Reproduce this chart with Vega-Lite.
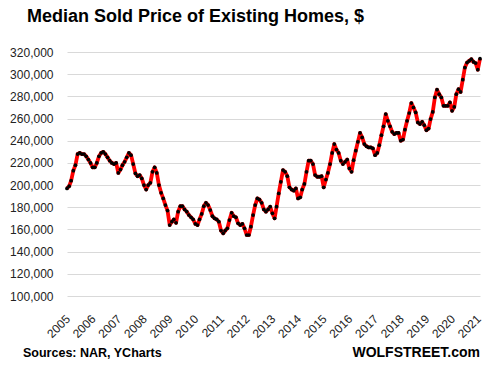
{
  "$schema": "https://vega.github.io/schema/vega-lite/v6.json",
  "width": 413,
  "height": 244,
  "autosize": {"type": "none"},
  "padding": {"left": 67, "top": 52, "right": 10, "bottom": 74},
  "background": "white",
  "config": {"view": {"stroke": null}, "font": "Liberation Sans"},
  "title": {"text": "Median Sold Price of Existing Homes, $", "anchor": "start", "frame": "group", "dx": -40, "offset": 6, "fontSize": 18, "fontWeight": "bold", "color": "#000000", "font": "Liberation Sans", "baseline": "alphabetic"},
  "data": {"values": [
      {"d":"2005-01-01","v":197000},{"d":"2005-02-01","v":199000},{"d":"2005-03-01","v":204000},{"d":"2005-04-01","v":213000},{"d":"2005-05-01","v":218000},{"d":"2005-06-01","v":228000},{"d":"2005-07-01","v":229000},{"d":"2005-08-01","v":228000},{"d":"2005-09-01","v":228000},{"d":"2005-10-01","v":226000},{"d":"2005-11-01","v":223000},{"d":"2005-12-01","v":220000},
      {"d":"2006-01-01","v":216000},{"d":"2006-02-01","v":216000},{"d":"2006-03-01","v":220000},{"d":"2006-04-01","v":226000},{"d":"2006-05-01","v":229000},{"d":"2006-06-01","v":230000},{"d":"2006-07-01","v":228000},{"d":"2006-08-01","v":225000},{"d":"2006-09-01","v":222000},{"d":"2006-10-01","v":220000},{"d":"2006-11-01","v":219000},{"d":"2006-12-01","v":220000},
      {"d":"2007-01-01","v":211000},{"d":"2007-02-01","v":214000},{"d":"2007-03-01","v":218000},{"d":"2007-04-01","v":221000},{"d":"2007-05-01","v":225000},{"d":"2007-06-01","v":229000},{"d":"2007-07-01","v":227000},{"d":"2007-08-01","v":219000},{"d":"2007-09-01","v":210500},{"d":"2007-10-01","v":208000},{"d":"2007-11-01","v":209000},{"d":"2007-12-01","v":206000},
      {"d":"2008-01-01","v":200000},{"d":"2008-02-01","v":196000},{"d":"2008-03-01","v":200000},{"d":"2008-04-01","v":202000},{"d":"2008-05-01","v":212000},{"d":"2008-06-01","v":216000},{"d":"2008-07-01","v":211000},{"d":"2008-08-01","v":200000},{"d":"2008-09-01","v":193000},{"d":"2008-10-01","v":188000},{"d":"2008-11-01","v":182000},{"d":"2008-12-01","v":177000},
      {"d":"2009-01-01","v":164000},{"d":"2009-02-01","v":167000},{"d":"2009-03-01","v":169000},{"d":"2009-04-01","v":166000},{"d":"2009-05-01","v":176000},{"d":"2009-06-01","v":181000},{"d":"2009-07-01","v":181000},{"d":"2009-08-01","v":178000},{"d":"2009-09-01","v":176000},{"d":"2009-10-01","v":173000},{"d":"2009-11-01","v":171000},{"d":"2009-12-01","v":169000},
      {"d":"2010-01-01","v":165000},{"d":"2010-02-01","v":164000},{"d":"2010-03-01","v":169000},{"d":"2010-04-01","v":174000},{"d":"2010-05-01","v":181000},{"d":"2010-06-01","v":184000},{"d":"2010-07-01","v":182000},{"d":"2010-08-01","v":177500},{"d":"2010-09-01","v":172000},{"d":"2010-10-01","v":170000},{"d":"2010-11-01","v":169000},{"d":"2010-12-01","v":167000},
      {"d":"2011-01-01","v":159000},{"d":"2011-02-01","v":156500},{"d":"2011-03-01","v":159000},{"d":"2011-04-01","v":161000},{"d":"2011-05-01","v":168500},{"d":"2011-06-01","v":175000},{"d":"2011-07-01","v":172000},{"d":"2011-08-01","v":171000},{"d":"2011-09-01","v":165500},{"d":"2011-10-01","v":164000},{"d":"2011-11-01","v":165000},{"d":"2011-12-01","v":161000},
      {"d":"2012-01-01","v":155000},{"d":"2012-02-01","v":155000},{"d":"2012-03-01","v":162500},{"d":"2012-04-01","v":173000},{"d":"2012-05-01","v":182000},{"d":"2012-06-01","v":188000},{"d":"2012-07-01","v":187000},{"d":"2012-08-01","v":184000},{"d":"2012-09-01","v":178000},{"d":"2012-10-01","v":176000},{"d":"2012-11-01","v":178000},{"d":"2012-12-01","v":180500},
      {"d":"2013-01-01","v":174500},{"d":"2013-02-01","v":170000},{"d":"2013-03-01","v":180500},{"d":"2013-04-01","v":192500},{"d":"2013-05-01","v":203000},{"d":"2013-06-01","v":213500},{"d":"2013-07-01","v":212000},{"d":"2013-08-01","v":208000},{"d":"2013-09-01","v":198000},{"d":"2013-10-01","v":196000},{"d":"2013-11-01","v":195000},{"d":"2013-12-01","v":197000},
      {"d":"2014-01-01","v":188000},{"d":"2014-02-01","v":189000},{"d":"2014-03-01","v":196000},{"d":"2014-04-01","v":201000},{"d":"2014-05-01","v":212000},{"d":"2014-06-01","v":222000},{"d":"2014-07-01","v":222000},{"d":"2014-08-01","v":219000},{"d":"2014-09-01","v":209000},{"d":"2014-10-01","v":207500},{"d":"2014-11-01","v":207500},{"d":"2014-12-01","v":208000},
      {"d":"2015-01-01","v":198000},{"d":"2015-02-01","v":205000},{"d":"2015-03-01","v":211000},{"d":"2015-04-01","v":219000},{"d":"2015-05-01","v":229000},{"d":"2015-06-01","v":237000},{"d":"2015-07-01","v":232000},{"d":"2015-08-01","v":229000},{"d":"2015-09-01","v":222000},{"d":"2015-10-01","v":219000},{"d":"2015-11-01","v":221000},{"d":"2015-12-01","v":223000},
      {"d":"2016-01-01","v":215000},{"d":"2016-02-01","v":212000},{"d":"2016-03-01","v":222500},{"d":"2016-04-01","v":231000},{"d":"2016-05-01","v":239000},{"d":"2016-06-01","v":247000},{"d":"2016-07-01","v":243000},{"d":"2016-08-01","v":237000},{"d":"2016-09-01","v":235000},{"d":"2016-10-01","v":234000},{"d":"2016-11-01","v":234000},{"d":"2016-12-01","v":233000},
      {"d":"2017-01-01","v":227000},{"d":"2017-02-01","v":229000},{"d":"2017-03-01","v":236000},{"d":"2017-04-01","v":245000},{"d":"2017-05-01","v":253000},{"d":"2017-06-01","v":264000},{"d":"2017-07-01","v":258000},{"d":"2017-08-01","v":253000},{"d":"2017-09-01","v":248000},{"d":"2017-10-01","v":246000},{"d":"2017-11-01","v":247000},{"d":"2017-12-01","v":247000},
      {"d":"2018-01-01","v":240000},{"d":"2018-02-01","v":241000},{"d":"2018-03-01","v":250000},{"d":"2018-04-01","v":258000},{"d":"2018-05-01","v":265000},{"d":"2018-06-01","v":274000},{"d":"2018-07-01","v":270000},{"d":"2018-08-01","v":265500},{"d":"2018-09-01","v":256500},{"d":"2018-10-01","v":255000},{"d":"2018-11-01","v":257000},{"d":"2018-12-01","v":254000},
      {"d":"2019-01-01","v":249500},{"d":"2019-02-01","v":251000},{"d":"2019-03-01","v":259500},{"d":"2019-04-01","v":266000},{"d":"2019-05-01","v":279000},{"d":"2019-06-01","v":286000},{"d":"2019-07-01","v":282000},{"d":"2019-08-01","v":279000},{"d":"2019-09-01","v":271500},{"d":"2019-10-01","v":271500},{"d":"2019-11-01","v":271500},{"d":"2019-12-01","v":274500},
      {"d":"2020-01-01","v":267000},{"d":"2020-02-01","v":270500},{"d":"2020-03-01","v":282000},{"d":"2020-04-01","v":286500},{"d":"2020-05-01","v":284000},{"d":"2020-06-01","v":295000},{"d":"2020-07-01","v":306000},{"d":"2020-08-01","v":310500},{"d":"2020-09-01","v":312000},{"d":"2020-10-01","v":313500},{"d":"2020-11-01","v":311000},{"d":"2020-12-01","v":310000},
      {"d":"2021-01-01","v":304000},{"d":"2021-02-01","v":314000}
  ]},
  "encoding": {
    "x": {"field": "d", "type": "temporal",
          "scale": {"domain": [{"year": 2005, "month": 1, "date": 1}, {"year": 2021, "month": 2, "date": 1}]},
          "axis": {"title": null, "format": "%Y", "tickCount": {"interval": "year", "step": 1}, "labelAngle": -45, "grid": false, "domain": false, "ticks": false, "labelPadding": 17, "labelOffset": -3, "labelFontSize": 12, "labelColor": "#222222", "labelOverlap": false, "labelFlush": false}},
    "y": {"field": "v", "type": "quantitative",
          "scale": {"domain": [100000, 320000], "nice": false, "zero": false},
          "axis": {"title": null, "values": [100000,120000,140000,160000,180000,200000,220000,240000,260000,280000,300000,320000], "format": ",d", "grid": true, "gridColor": "#d9d9d9", "gridWidth": 1, "domain": false, "ticks": false, "labelPadding": 14, "labelFontSize": 12, "labelColor": "#222222", "labelOverlap": false, "labelFlush": false}}
  },
  "layer": [
    {
      "mark": {"type": "line", "color": "#ff0000", "strokeWidth": 3.8, "strokeJoin": "round", "clip": false}
    },
    {
      "mark": {"type": "point", "filled": true, "color": "#000000", "size": 14, "opacity": 1, "clip": false}
    },
    {
      "data": {"values": [{"t": "Sources: NAR, YCharts"}]},
      "mark": {"type": "text", "align": "left", "baseline": "alphabetic", "fontWeight": "bold", "fontSize": 12.5, "color": "#000000"},
      "encoding": {"text": {"field": "t"}, "x": {"value": -44}, "y": {"value": 305}}
    },
    {
      "data": {"values": [{"t": "WOLFSTREET.com"}]},
      "mark": {"type": "text", "align": "right", "baseline": "alphabetic", "fontWeight": "bold", "fontSize": 14, "color": "#000000"},
      "encoding": {"text": {"field": "t"}, "x": {"value": 413}, "y": {"value": 305}}
    }
  ]
}
